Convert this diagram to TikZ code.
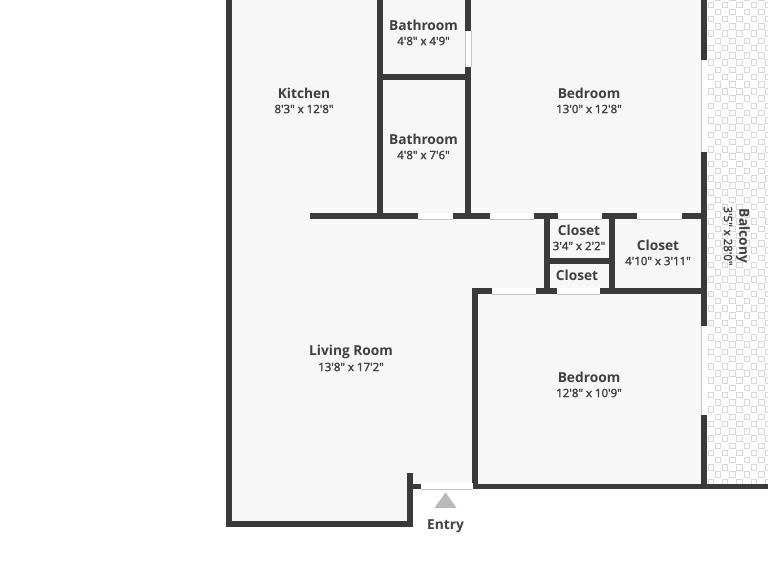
\documentclass[tikz,border=0pt]{standalone}
\usepackage{fontspec}
\setmainfont{Open Sans}
\newfontfamily\roomfont{Open Sans}[UprightFont=*-Bold]
\newfontfamily\sizefont[FakeBold=2]{Open Sans}
\definecolor{wallc}{HTML}{3A3A3A}
\definecolor{floorc}{HTML}{F7F7F7}
\definecolor{tilec}{HTML}{D8D8D8}
\definecolor{entryc}{HTML}{B9B9B9}
\definecolor{doorl}{HTML}{C4C4C4}
\definecolor{textc}{HTML}{404040}
\tikzset{
  wall/.style={fill=wallc,draw=none},
  opening/.style={fill=white,draw=none},
  roomname/.style={font=\roomfont\fontsize{10.3}{13}\selectfont,text=textc,inner sep=0pt},
  roomsize/.style={font=\sizefont\fontsize{8.6}{10}\selectfont,text=textc,inner sep=0pt},
  tile/.style={draw=tilec,line width=0.75pt,fill=white}
}
\newcommand{\wl}[4]{\fill[wall] ({#1-0.4},{#2-0.4}) rectangle ({#3+0.4},{#4+0.4});}
\newcommand{\op}[4]{\fill[opening] (#1,#2) rectangle (#3,#4);\draw[doorl,line width=0.5pt] (#1,#4) -- (#3,#4);}
\begin{document}
\begin{tikzpicture}[x=0.75pt,y=-0.75pt]
\useasboundingbox (0,0) rectangle (768,576);
\fill[white] (0,0) rectangle (768,576);
% floor
\fill[floorc] (229,0) -- (704,0) -- (704,487) -- (475,487) -- (410,487) -- (410,524) -- (229,524) -- cycle;
% balcony tiles
\begin{scope}
\clip (707,0) rectangle (768,484);
\fill[white] (707,0) rectangle (768,484);
\foreach \r in {-1,...,67}{
  \pgfmathsetmacro{\yy}{2+7.23*\r}
  \pgfmathsetmacro{\off}{ifthenelse(mod(\r+2,2)==1,7.23,0)}
  \foreach \c in {0,...,4}{
    \pgfmathsetmacro{\xa}{708+\off+14.46*\c}
    \draw[tile] (\xa,\yy) rectangle +(5.5,5.5);
  }
}
\end{scope}
% outer walls
\wl{226}{0}{232}{527}
\wl{226}{521}{413}{527}
\wl{407}{473}{413}{527}
\wl{407}{484}{421}{489}
\wl{472}{288}{478}{489}
\wl{472}{484}{768}{489}
\wl{701}{0}{707}{60}
\wl{701}{152}{707}{326}
\wl{701}{415}{707}{489}
\fill[white] (701,60) rectangle (707,152);
\fill[white] (701,326) rectangle (707,415);
\draw[doorl,line width=0.6pt] (701,60) -- (701,152) (701,326) -- (701,415);
% entry opening
\op{421}{483}{473}{489}
% interior vertical walls
\wl{377}{0}{383}{215}
\wl{465}{0}{471}{31}
\wl{465}{67}{471}{215}
\fill[white] (465,31) rectangle (471,67);
\draw[doorl,line width=0.6pt] (465,31) -- (465,67) (471,31) -- (471,67);
\wl{377}{74}{471}{80}
\wl{544}{215}{550}{292}
\wl{609}{215}{615}{292}
\wl{544}{258}{615}{264}
% wall y=216
\wl{310}{213}{418}{219}
\wl{453}{213}{490}{219}
\wl{534}{213}{558}{219}
\wl{602}{213}{637}{219}
\wl{682}{213}{703}{219}
\op{418}{213}{453}{219}
\op{490}{213}{534}{219}
\op{558}{213}{602}{219}
\op{637}{213}{682}{219}
% wall y=291
\wl{472}{288}{492}{294}
\wl{536}{288}{557}{294}
\wl{600}{288}{703}{294}
\op{492}{288}{536}{294}
\op{557}{288}{600}{294}
% entry triangle
\fill[entryc] (445.5,492.5) -- (456.5,508) -- (434.5,508) -- cycle;
% labels
\node[roomname] (kitchen) at (304,93) {Kitchen};
\node[roomsize] (kitchens) at (304,109) {8'3" x 12'8"};
\node[roomname] (bath1) at (423.5,25) {Bathroom};
\node[roomsize] (bath1s) at (423.5,41) {4'8" x 4'9"};
\node[roomname] (bath2) at (423.5,139) {Bathroom};
\node[roomsize] (bath2s) at (423.5,155) {4'8" x 7'6"};
\node[roomname] (bed1) at (589,93) {Bedroom};
\node[roomsize] (bed1s) at (589,109) {13'0" x 12'8"};
\node[roomname] (clo1) at (579,230) {Closet};
\node[roomsize] (clo1s) at (579,246) {3'4" x 2'2"};
\node[roomname] (clo2) at (658,245) {Closet};
\node[roomsize] (clo2s) at (658,261) {4'10" x 3'11"};
\node[roomname] (clo3) at (577,275) {Closet};
\node[roomname] (living) at (351,352) {Living Room};
\node[roomsize] (livings) at (351,367) {13'8" x 17'2"};
\node[roomname] (bed2) at (589,377) {Bedroom};
\node[roomsize] (bed2s) at (589,393) {12'8" x 10'9"};
\node[roomname,rotate=-90] (balc) at (743,236) {Balcony};
\node[roomsize,rotate=-90] (balcs) at (728,236) {3'5" x 28'0"};
\node[roomname] (entry) at (445.5,526) {Entry};
\end{tikzpicture}
\end{document}
